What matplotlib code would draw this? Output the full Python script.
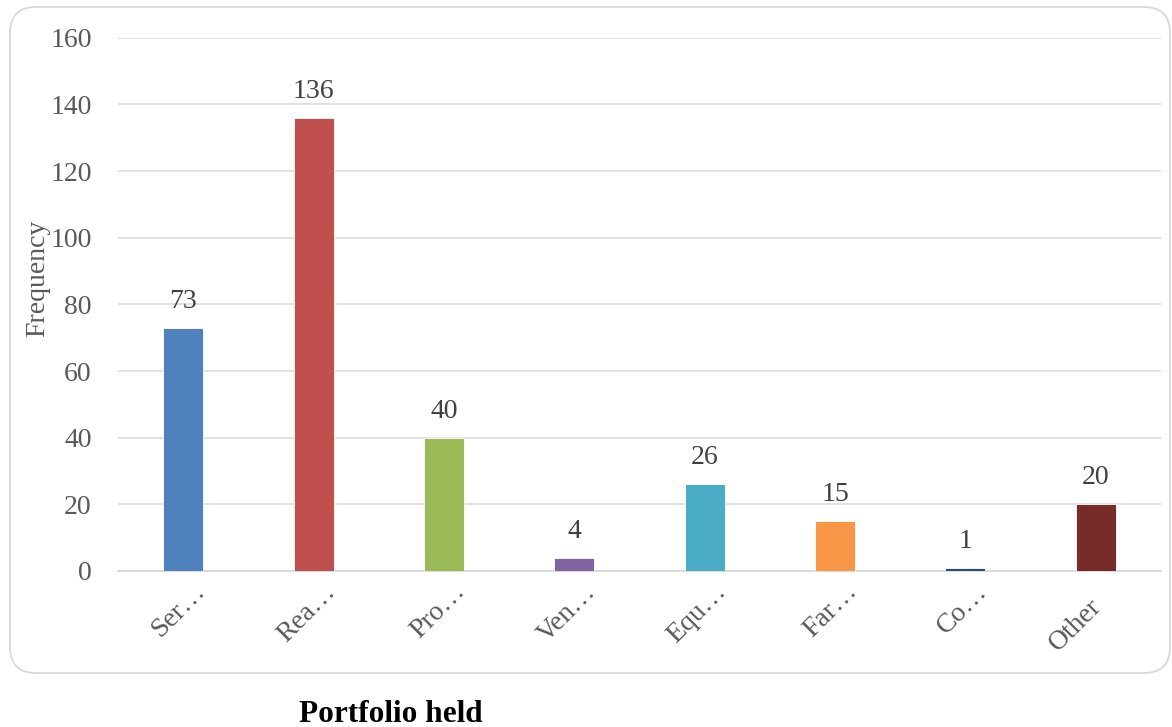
import matplotlib
matplotlib.use("Agg")
import matplotlib.pyplot as plt
from matplotlib.patches import FancyBboxPatch
import matplotlib.transforms as mtransforms

# Portfolio categories (labels truncated as displayed) and their counts
categories = ["Ser…", "Rea…", "Pro…", "Ven…", "Equ…", "Far…", "Co…", "Other"]
frequency = [73, 136, 40, 4, 26, 15, 1, 20]
bar_colors = ["#4F81BD", "#C0504D", "#9BBB59", "#8064A2",
              "#4BACC6", "#F79646", "#2C4D75", "#772C2A"]
y_ticks = [0, 20, 40, 60, 80, 100, 120, 140, 160]

plt.rcParams["font.family"] = ["Liberation Serif", "DejaVu Serif"]

fig = plt.figure(figsize=(11.72, 7.27), dpi=100)

# rounded chart-area frame (in inches so the corners stay circular)
frame = FancyBboxPatch((0.10, 0.54), 11.60, 6.66,
                       boxstyle="round,pad=0,rounding_size=0.26",
                       transform=fig.dpi_scale_trans,
                       facecolor="none", edgecolor="#D9D9D9", linewidth=1.3,
                       zorder=0)
fig.patches.append(frame)

ax = fig.add_axes([0.1007, 0.2146, 0.8899, 0.7335])
ax.set_facecolor("none")

x = list(range(len(categories)))
bars = ax.bar(x, frequency, width=0.307, color=bar_colors,
              edgecolor="white", linewidth=0.6, zorder=3)

ax.set_xlim(-0.5, len(categories) - 0.5)
ax.set_ylim(0, 160)
ax.set_yticks(y_ticks)
ax.set_yticklabels([str(v) for v in y_ticks])
ax.yaxis.grid(True, color="#D9D9D9", linewidth=1.1, zorder=0)
ax.set_axisbelow(True)

for side in ["top", "right", "left"]:
    ax.spines[side].set_visible(False)
ax.spines["bottom"].set_color("#D9D9D9")
ax.spines["bottom"].set_linewidth(1.3)

ax.tick_params(axis="both", length=0, labelsize=20, labelcolor="#595959")
ax.tick_params(axis="y", pad=19)

ax.set_xticks(x)
ax.set_xticklabels(categories, rotation=45, ha="right",
                   rotation_mode="anchor", va="center")
# truncated labels sit slightly further along the slant than full ones
for lbl in ax.get_xticklabels():
    if lbl.get_text().endswith("…"):
        dx, dy = 0.18, -0.12
    else:
        dx, dy = 0.02, -0.27
    shift = mtransforms.ScaledTranslation(dx, dy, fig.dpi_scale_trans)
    lbl.set_transform(lbl.get_transform() + shift)

# value labels above each bar
for xi, val in zip(x, frequency):
    ax.annotate(str(val), (xi, val), xytext=(0, 14.5), textcoords="offset points",
                ha="center", va="baseline", fontsize=20, color="#404040")

fig.text(0.032, 1 - 278 / 727, "Frequency", rotation=90, ha="center",
         va="center", fontsize=20, color="#595959")

fig.text(391 / 1172, 1 - 714 / 727, "Portfolio held", ha="center",
         va="center", fontsize=22.5, fontweight="bold", color="black")

fig.savefig("out.png", dpi=100)
